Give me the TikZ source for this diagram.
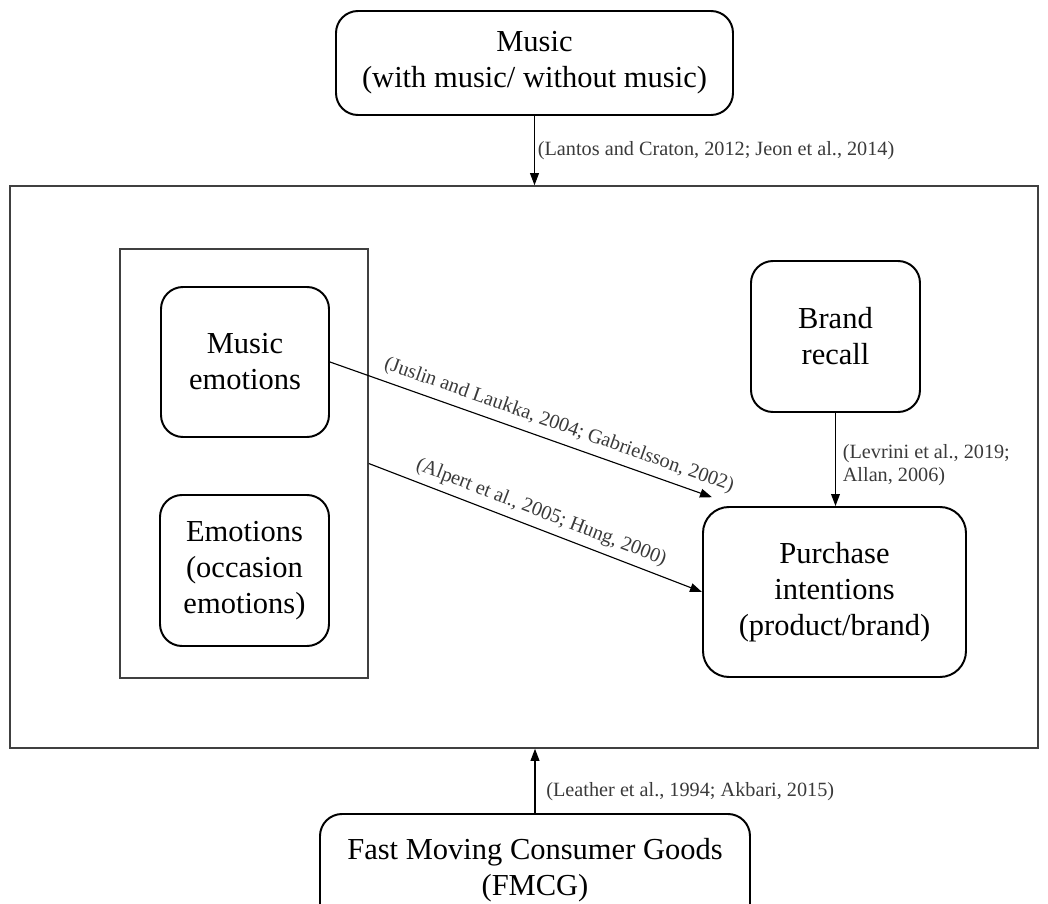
\documentclass[tikz,border=0pt]{standalone}
\usepackage{fontspec}
\setmainfont{Liberation Serif}
\definecolor{citetext}{HTML}{3a3a3a}
\definecolor{framegray}{HTML}{404040}
\usetikzlibrary{arrows.meta}

\begin{document}
\begin{tikzpicture}[
		box/.style={draw=black, line width=1.4pt, rounded corners=0.55cm, align=center, font=\fontsize{21.7}{25.6}\selectfont, inner sep=0pt},
		frame/.style={draw=framegray, line width=1.1pt, inner sep=0pt},
		link/.style={draw=black, line width=0.8pt, -{Triangle[length=0.3cm, width=0.22cm]}},
		cite/.style={text=citetext, font=\fontsize{14.4}{16.5}\selectfont, inner sep=2pt}
	]
	\useasboundingbox (0,0) rectangle (26.2,-22.6);
	% Outer frames
	\node[frame, minimum width=25.7cm, minimum height=14.05cm] (frame) at (13.1, -11.675) {};
	\node[frame, minimum width=6.2cm, minimum height=10.725cm] (inner) at (6.1, -11.5875) {};
	% Boxes
	\node[box, minimum width=9.925cm, minimum height=2.6cm] (music) at (13.3625, -1.575) {Music\\(with music/ without music)};
	\node[box, minimum width=4.2cm, minimum height=3.75cm] (musemo) at (6.125, -9.05) {Music\\emotions};
	\node[box, minimum width=4.225cm, minimum height=3.775cm] (emo) at (6.1125, -14.2625) {Emotions\\(occasion\\emotions)};
	\node[box, minimum width=4.225cm, minimum height=3.775cm] (brand) at (20.8875, -8.4125) {Brand\\recall};
	\node[box, minimum width=6.575cm, minimum height=4.25cm, rounded corners=0.65cm] (purchase) at (20.8625, -14.8) {Purchase\\intentions\\(product/brand)};
	\node[box, minimum width=10.75cm, minimum height=2.8cm] (fmcg) at (13.375, -21.75) {Fast Moving Consumer Goods\\(FMCG)};
	% Links
	\draw[link] (music.south) -- node[cite, right] {(Lantos and Craton, 2012; Jeon et al., 2014)} (music.south |- frame.north);
	\draw[link] (fmcg.north) -- node[cite, right, pos=0.33, xshift=0.2cm] {(Leather et al., 1994; Akbari, 2015)} (fmcg.north |- frame.south);
	\draw[link] (brand.south) -- node[cite, right, align=left, xshift=0.1cm, yshift=-0.14cm] {(Levrini et al., 2019;\\Allan, 2006)} (brand.south |- purchase.north);
	\draw[link] (musemo.east) -- node[cite, sloped, above, pos=0.585, inner sep=5pt] {(Juslin and Laukka, 2004; Gabrielsson, 2002)} ([shift={(0.25cm,0.22cm)}]purchase.north west);
	\draw[link] (inner.east) -- node[cite, sloped, above, pos=0.5, inner sep=4.5pt] {(Alpert et al., 2005; Hung, 2000)} (purchase.west);
\end{tikzpicture}
\end{document}
